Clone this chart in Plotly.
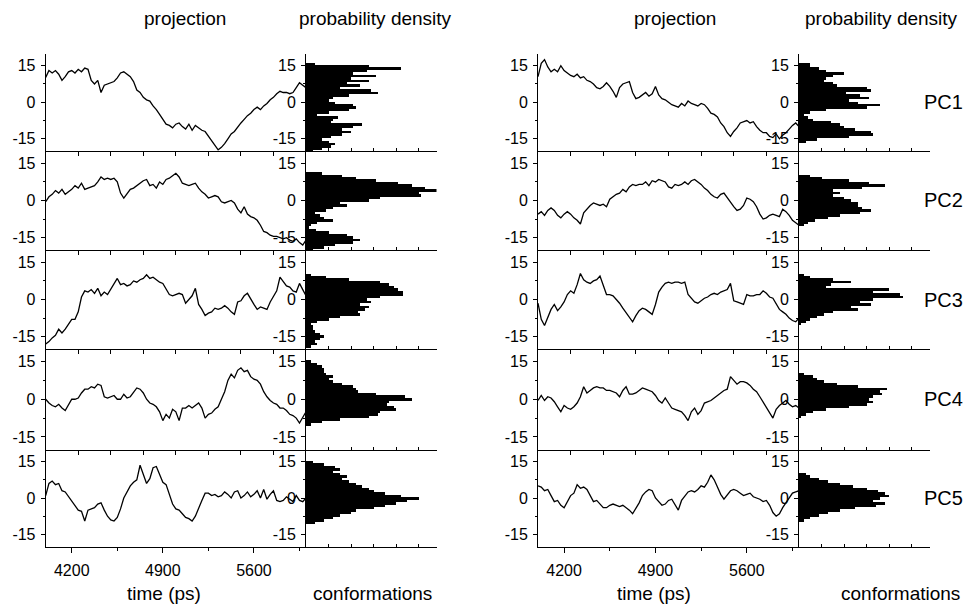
import plotly.graph_objects as go

# ---------------- data ----------------
time_ps = list(range(4000, 6001, 25))

left_pc1 = [10.2, 13, 12, 13, 11.5, 9, 10.5, 12.5, 13, 12,
            13.5, 12.5, 14, 13.5, 9, 7.5, 9, 4, 7, 7.5,
            8, 8.5, 10, 12, 12.5, 11.5, 10.5, 8.5, 5, 4,
            2, 1, 0.5, -1.5, -3, -5, -7, -9, -9.5, -10.5,
            -9, -8.5, -10, -11, -9, -11.5, -9.5, -10.5, -11.5, -12,
            -14, -15.5, -18, -19.5, -18.5, -17, -15, -13, -12, -10,
            -8.5, -7, -5.5, -4.5, -3, -2, -3, -1.5, -0.5, 1,
            2, 3.5, 4.5, 4, 4, 3.5, 4, 6, 8, 7, 6]
left_pc2 = [-0.5, 1.5, 2.5, 4, 3, 4.5, 2.5, 3.5, 4.5, 6,
            5, 7, 4.5, 5, 5.5, 6, 7.5, 9.5, 8.5, 9,
            8.5, 9, 7.5, 3, 1, 3, 4.5, 5, 6, 7,
            8, 8.5, 6, 6.5, 5, 7.5, 6.5, 8.5, 9, 10,
            11, 9.5, 7, 6.5, 6, 6.5, 7, 5, 3.5, 2.5,
            1, 1.5, 2, 1.5, -0.5, -1, -0.5, 0, -1, -3.5,
            -5, -2.5, -5.5, -6.5, -7, -8, -10, -12.5, -13, -14,
            -14.5, -14.5, -15, -15.5, -15, -16, -16.5, -15.5, -17, -18, -16]
left_pc3 = [-18, -17, -15.5, -14.5, -12, -13.5, -12, -10, -8, -8,
            -5, 1, 3.5, 3, 4, 2.5, 4.5, 1.5, 3, 2,
            4, 6, 8.5, 6, 6.5, 5.5, 6, 7.5, 7, 8,
            8.5, 10, 8.5, 9, 8, 7, 6.5, 4.5, 2, 1.5,
            2, 2.5, 2, -1.5, 0, 1.5, 4.5, -2, -4, -6.5,
            -5.5, -5, -3.5, -4, -3.5, -2.5, -3.5, -5, -6, -1,
            -0.5, 1.5, 2.5, 0, -2, -4, -3, -3.5, -4, -1,
            1.5, 3.5, 9, 7, 5.5, 5, 3.5, 3, 6.5, 4, 1.5]
left_pc4 = [0, -1.5, -2.5, -3, -2, -3.5, -4.5, -2, 0, 0,
            0.5, 2.5, 4, 4, 5, 4.5, 6, 5.5, 1, 0.5,
            1, 1.5, 0, 0, 2, 0.5, 1, 3, 4.5, 4,
            2.5, 0, -1.5, -2, -3, -5, -8.5, -6, -7.5, -4,
            -5, -8.5, -3.5, -3.5, -2.5, -3.5, -2.5, -1.5, -3.5, -7.5,
            -6, -5.5, -4, -3, 0, 3, 7.5, 10, 8.5, 11.5,
            12.5, 11, 11.5, 9, 8, 7.5, 6, 3, 1, -0.5,
            -1.5, -2, -3.5, -3.5, -4.5, -6, -6.5, -7.5, -9.5, -7, -5]
left_pc5 = [1, 6, 7, 5.5, 6, 3, 2.5, 0.5, -1.5, -3.5,
            -5, -5.5, -9.5, -5, -4.5, -4, -2.5, -2, -5, -7.5,
            -9, -9.5, -8, -4.5, 0, 2.5, 5, 6.5, 7.5, 13.5,
            10, 6, 8, 12.5, 13, 10, 6.5, 5.5, 1, -2.5,
            -4.5, -5, -6.5, -8, -8.5, -9.5, -7.5, -4, -1, 2,
            2, 1, 1.5, 0.5, 1, 2.5, 1.5, 0, 2.5, 3,
            0, 1, 2.5, 0.5, 1.5, 3, 0, 3.5, -0.5, 1.5,
            3, -1, -1.5, -1, 0.5, -0.5, -1.5, 1, -1, -1.5, 0]

right_pc1 = [10.5, 16, 17.5, 14.5, 12.5, 13.5, 12.5, 15, 13, 12,
             11, 10.5, 11.5, 10, 10.5, 9, 8.5, 7.5, 6, 5.5,
             6.5, 8, 6.5, 4.5, 2, 6, 7.5, 8, 8.5, 4,
             1.5, 2, 3, 4, 2.5, 3.5, 6.5, 3, 1.5, 1,
             0, -1, -1.5, -2, -0.5, -1.5, 0.5, -0.5, -1, -1.5,
             -0.5, -1, -2.5, -4.5, -5, -6, -8.5, -10, -12.5, -14,
             -12, -10.5, -8.5, -8, -7.5, -8.5, -8, -10, -11.5, -12.5,
             -12.5, -14, -14.5, -13, -15, -13.5, -12.5, -11, -9.5, -8.5, -10]
right_pc2 = [-5.5, -4.5, -6, -4, -3, -4, -6, -7, -5.5, -4.5,
             -5.5, -7, -8, -9.5, -5, -3.5, -2, -1, -1.5, -2,
             -1.5, -2.5, 0.5, 1.5, 2.5, 3, 4.5, 3.5, 5.5, 6.5,
             6, 6.5, 6.5, 7.5, 6, 8, 7.5, 8.5, 8, 7.5,
             5.5, 5, 6.5, 6, 6.5, 7.5, 6.5, 8, 8.5, 7.5,
             6.5, 5, 4, 2.5, 1.5, 1, 2.5, 3, 1, -0.5,
             -2.5, -4, -3.5, -2, 1, 0.5, -0.5, -2.5, -5.5, -7.5,
             -7, -6, -5.5, -6, -6.5, -3.5, -4.5, -6, -8, -9, -10]
right_pc3 = [-1.5, -8, -10.5, -7, -4, -2, -4.5, -3, -1, 2,
             3.5, 2.5, 6, 10.5, 8, 7, 6.5, 7.5, 8, 9.5,
             5.5, 2, 2, 1.5, 0, -1.5, -3.5, -5.5, -7, -9,
             -6.5, -4.5, -3.5, -4, -5, -6, -2, 3, 5, 6.5,
             7, 6.5, 7, 7, 6.5, 7, 2, 0.5, -1, -1.5,
             -0.5, 0.5, 1, 2, 2.5, 2, 3, 3.5, 4, 6.5,
             -0.5, -1, -1.5, -2, 2, 1.5, 1.5, 2, 2, 3.5,
             2.5, 1, 0.5, -2, -4, -5, -6, -7.5, -8.5, -9, -7.5]
right_pc4 = [-0.5, 1.5, -0.5, 1, 0.5, -1, -3, -5, -2.5, -3.5,
             -4, -3, -1.5, 1, 5, 2.5, 3.5, 4.5, 5, 4.5,
             4.5, 3.5, 3.5, 3, 2.5, 1, 3.5, 5, 2, 2,
             2.5, 3.5, 4.5, 4, 3.5, 3, 1.5, -0.5, -1.5, 0.5,
             -1.5, -3.5, -4, -4.5, -5, -6.5, -8.5, -5, -3.5, -6,
             -4.5, -1.5, -1, -0.5, 0.5, 1.5, 2.5, 3.5, 4, 9,
             7.5, 6, 7, 7, 6.5, 5.5, 4, 3, 1, -1,
             -3.5, -5.5, -7.5, -4, -2.5, -1.5, -0.5, -2, -3, -2.5, -3.5]
right_pc5 = [5, 4.5, 3, 3.5, 1, -1.5, -1, -3, -4, -1.5,
             1, 2, 5.5, 4, 4.5, 3.5, 1, -1.5, -1, -2.5,
             -4, -4, -3, -2.5, -3, -3.5, -3, -4, -5, -6.5,
             -4.5, -2, 1, 2.5, 3.5, 3, 0, -1.5, -3, -2.5,
             -1, -0.5, -3, -5, -1, 1, 2.5, 3, 2.5, 3.5,
             5, 4.5, 6.5, 9.5, 7.5, 4.5, 1.5, -0.5, 1.5, 3,
             3.5, 3, 2, 1, 1.5, 2, 0.5, 0, -0.5, -1.5,
             -1, -3, -6, -7.5, -6.5, -4, -2, 0.5, 2, 2.5, 3]

# histogram bar lengths (conformations), listed from the top bin downward (bin width 1)
left_hist_pc1 = [0.4, 2.8, 4.2, 2.7, 2.1, 3.1, 2.0, 2.8, 1.8, 2.4, 1.5, 2.9, 3.2, 1.9, 1.2, 1.0, 1.3,
                 2.1, 2.2, 1.9, 1.0, 0.5, 1.4, 1.2, 1.1, 2.5, 2.1, 1.6, 2.0, 1.6, 1.1, 0.7, 1.0,
                 1.3, 1.1, 0.7, 0.3]
left_hist_pc2 = [0.7, 1.6, 2.2, 3.1, 4.1, 4.7, 5.3, 5.8, 5.0, 5.1, 3.3, 2.8, 1.5, 1.8, 1.2, 0.9,
                 0.4, 0.6, 0.8, 1.2, 0.5, 0.2, 0.15, 0.45, 1.0, 1.8, 2.1, 2.4, 2.1, 1.3, 0.8, 0.3]
left_hist_pc3 = [0.2, 0.9, 1.9, 3.3, 3.7, 3.9, 4.1, 4.3, 4.3, 3.3, 2.7, 2.9, 2.4, 2.8, 2.6, 2.3,
                 2.4, 1.5, 1.0, 0.5, 0.2, 0.3, 0.3, 0.4, 0.6, 0.8, 0.6, 0.4, 0.5, 0.2]
left_hist_pc4 = [0.2, 0.5, 0.7, 0.8, 0.8, 0.9, 1.2, 1.0, 1.2, 1.6, 2.1, 2.2, 2.3, 3.1, 4.4, 4.7,
                 3.7, 3.6, 3.9, 4.0, 3.3, 3.2, 2.8, 1.5, 0.7, 0.2]
left_hist_pc5 = [0.3, 0.8, 1.3, 1.5, 1.2, 1.5, 1.8, 1.6, 1.9, 2.2, 2.5, 2.8, 3.0, 3.5, 4.2, 5.0,
                 4.5, 4.0, 3.5, 3.0, 2.2, 2.0, 1.5, 1.2, 0.8, 0.4]
right_hist_pc1 = [0.5, 0.5, 0.9, 1.2, 2.0, 1.5, 1.2, 1.1, 1.5, 1.7, 3.0, 3.2, 2.1, 2.7, 3.1, 2.2,
                  2.6, 3.6, 3.0, 1.2, 0.5, 0.2, 0.4, 0.6, 1.4, 1.8, 2.0, 2.5, 3.2, 3.3, 2.2, 0.8, 0.3]
right_hist_pc2 = [0.5, 1.0, 2.2, 3.1, 3.8, 2.8, 1.5, 1.8, 1.5, 2.0, 2.3, 2.6, 2.6, 2.8, 3.2, 2.7,
                  1.8, 1.3, 0.7, 0.4, 0.2]
right_hist_pc3 = [0.2, 0.5, 1.5, 2.3, 1.4, 1.2, 4.0, 3.3, 4.5, 4.6, 3.3, 2.7, 3.2, 2.3, 2.6, 1.5,
                  1.1, 0.8, 0.5, 0.3, 0.1]
right_hist_pc4 = [0.2, 0.6, 0.8, 1.1, 1.7, 2.6, 3.9, 3.6, 3.7, 3.3, 3.1, 3.3, 3.0, 2.2, 1.2, 0.6,
                  0.3, 0.1]
right_hist_pc5 = [0.3, 0.5, 0.9, 1.3, 1.8, 2.4, 3.0, 3.5, 3.8, 4.0, 3.6, 3.3, 3.8, 3.4, 2.5, 1.8,
                  1.3, 0.9, 0.5, 0.2]
# projection value at the centre of the top bin of each histogram
left_hist_top = [16, 11, 10, 15, 15]
right_hist_top = [16, 10, 10, 10, 10]

pc_labels = ["PC1", "PC2", "PC3", "PC4", "PC5"]
y_tick_vals = [-15, 0, 15]
x_tick_vals = [4200, 4900, 5600]

# ---------------- layout helpers ----------------
W, H = 967, 606
FONT = "Liberation Sans, Arial, sans-serif"


def fx(px):
    return px / W


def fy(py):
    return 1 - py / H


row_edges = [53.5, 151, 250, 349, 449.5, 546.5]
groups = [
    dict(ts=(45.7, 306), hist=(306, 436.5), series=[left_pc1, left_pc2, left_pc3, left_pc4, left_pc5],
         hists=[left_hist_pc1, left_hist_pc2, left_hist_pc3, left_hist_pc4, left_hist_pc5],
         tops=left_hist_top),
    dict(ts=(538, 799), hist=(799, 929.5), series=[right_pc1, right_pc2, right_pc3, right_pc4, right_pc5],
         hists=[right_hist_pc1, right_hist_pc2, right_hist_pc3, right_hist_pc4, right_hist_pc5],
         tops=right_hist_top),
]

fig = go.Figure()
layout = {}
tickfont = dict(family=FONT, size=16, color="black")


def yaxis_common(dom, anchor):
    return dict(domain=dom, anchor=anchor, range=[-20, 20], showgrid=False, zeroline=False,
                showline=True, linecolor="black", linewidth=1,
                tickmode="array", tickvals=y_tick_vals, ticktext=[str(v) for v in y_tick_vals],
                ticks="outside", ticklen=4, tickcolor="black", tickwidth=1,
                minor=dict(tickvals=[-7.5, 7.5], ticks="outside", ticklen=2, tickcolor="black"),
                tickfont=tickfont, ticklabelstandoff=2)


n = 0
for g in groups:
    for r in range(5):
        dom_y = [fy(row_edges[r + 1]), fy(row_edges[r])]
        # time series
        n += 1
        xa, ya = ("x%d" % n if n > 1 else "x"), ("y%d" % n if n > 1 else "y")
        fig.add_trace(go.Scatter(x=time_ps, y=g["series"][r], mode="lines",
                                 line=dict(color="black", width=1.3), xaxis=xa, yaxis=ya,
                                 showlegend=False, hoverinfo="skip"))
        xax = dict(domain=[fx(g["ts"][0]), fx(g["ts"][1])], anchor=ya, range=[4000, 6000],
                   showgrid=False, zeroline=False, showline=True, linecolor="black", linewidth=1,
                   ticks="outside", tickcolor="black", tickwidth=1, tickfont=tickfont)
        if r < 4:
            xax.update(tickmode="array", tickvals=list(range(4250, 5751, 250)), ticklen=4,
                       showticklabels=False)
        else:
            xax.update(tickmode="array", tickvals=x_tick_vals, ticktext=[str(v) for v in x_tick_vals],
                       ticklen=5, ticklabelstandoff=4,
                       minor=dict(tickvals=[4550, 5250, 5950], ticks="outside", ticklen=3,
                                  tickcolor="black"))
        layout["xaxis%d" % n if n > 1 else "xaxis"] = xax
        layout["yaxis%d" % n if n > 1 else "yaxis"] = yaxis_common(dom_y, xa)

        # histogram
        n += 1
        xa, ya = "x%d" % n, "y%d" % n
        vals = g["hists"][r]
        top = g["tops"][r]
        bins = [top - i for i in range(len(vals))]
        fig.add_trace(go.Bar(y=bins, x=vals, orientation="h", width=1.0,
                             marker=dict(color="black", line=dict(width=0)),
                             xaxis=xa, yaxis=ya, showlegend=False, hoverinfo="skip"))
        layout["xaxis%d" % n] = dict(domain=[fx(g["hist"][0]), fx(g["hist"][1])], anchor=ya,
                                     range=[0, 5.8], showgrid=False, zeroline=False, showline=True,
                                     linecolor="black", linewidth=1, tickmode="array",
                                     tickvals=[1, 2, 3, 4, 5], ticks="inside", ticklen=3,
                                     tickcolor="black", showticklabels=False)
        layout["yaxis%d" % n] = yaxis_common(dom_y, xa)

annotations = []
title_font = dict(family=FONT, size=19, color="black")
for cx_proj, cx_prob, cx_time, cx_conf in [(185, 375, 164, 372), (675, 881, 654, 900)]:
    annotations.append(dict(text="projection", x=fx(cx_proj), y=fy(18), xref="paper", yref="paper",
                            showarrow=False, font=title_font, xanchor="center", yanchor="middle"))
    annotations.append(dict(text="probability density", x=fx(cx_prob), y=fy(18), xref="paper",
                            yref="paper", showarrow=False, font=title_font, xanchor="center",
                            yanchor="middle"))
    annotations.append(dict(text="time (ps)", x=fx(cx_time), y=fy(593), xref="paper", yref="paper",
                            showarrow=False, font=title_font, xanchor="center", yanchor="middle"))
    annotations.append(dict(text="conformations", x=fx(cx_conf), y=fy(593), xref="paper",
                            yref="paper", showarrow=False, font=title_font, xanchor="center",
                            yanchor="middle"))
for r, lab in enumerate(pc_labels):
    cy = (row_edges[r] + row_edges[r + 1]) / 2
    annotations.append(dict(text=lab, x=fx(943), y=fy(cy), xref="paper", yref="paper",
                            showarrow=False, font=dict(family=FONT, size=20, color="black"),
                            xanchor="center", yanchor="middle"))

fig.update_layout(width=W, height=H, margin=dict(l=0, r=0, t=0, b=0), paper_bgcolor="white",
                  plot_bgcolor="rgba(0,0,0,0)", bargap=0, showlegend=False,
                  annotations=annotations, **layout)

fig.write_html("out.html")
